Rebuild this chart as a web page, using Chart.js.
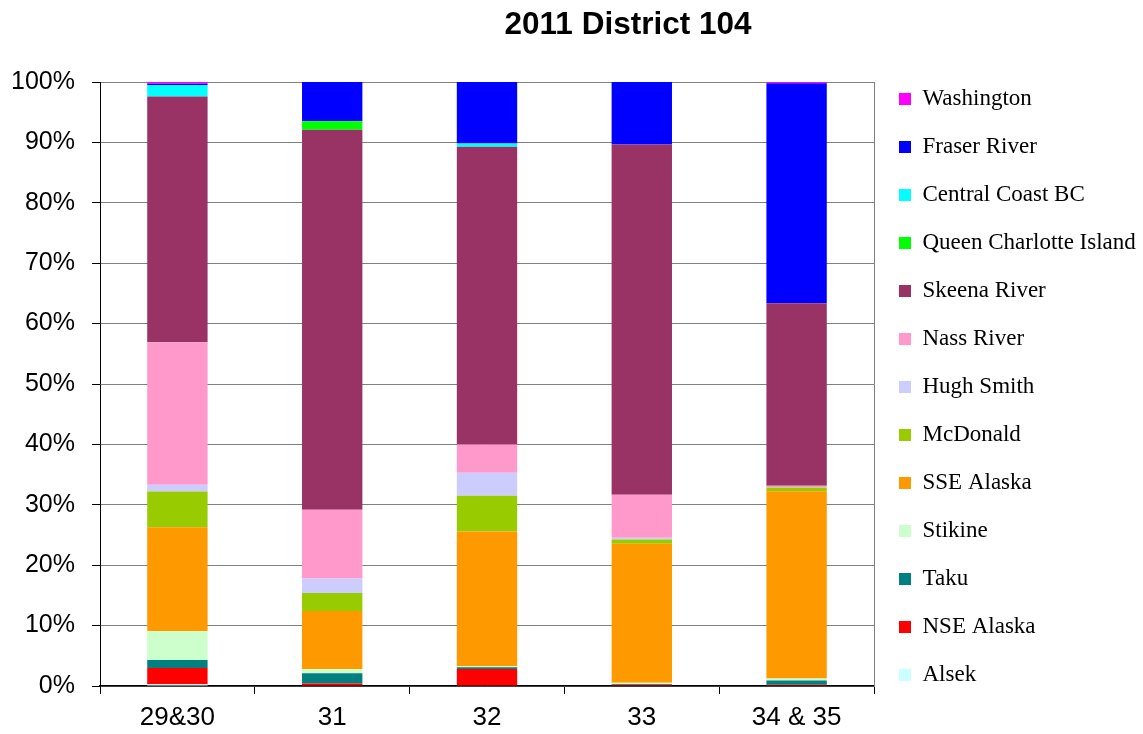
<!DOCTYPE html>
<html>
<head>
<meta charset="utf-8">
<title>2011 District 104</title>
<script src="https://cdn.jsdelivr.net/npm/chart.js@4.4.0/dist/chart.umd.min.js"></script>
<style>
  html, body { margin: 0; padding: 0; background: #fff; }
</style>
</head>
<body>
<canvas id="districtChart" width="1143" height="734"></canvas>

<script>
    // stock composition (% of catch) per statistical week
    const weeks = ['29&30', '31', '32', '33', '34 & 35'];

    const alsek        = [0.3, 0,    0.1,  0,    0];
    const nseAlaska    = [2.7, 0.4,  2.7,  0.2,  0.2];
    const taku         = [1.3, 1.7,  0.3,  0.15, 0.7];
    const stikine      = [4.8, 0.7,  0.2,  0.2,  0.35];
    const sseAlaska    = [17.2, 9.6, 22.3, 23.0, 31.0];
    const mcDonald     = [5.9, 3.0,  5.9,  0.7,  0.6];
    const hughSmith    = [1.1, 2.4,  3.8,  0.3,  0.1];
    const nassRiver    = [23.6, 11.4, 4.7, 7.1,  0.2];
    const skeenaRiver  = [40.7, 62.9, 49.3, 58.0, 30.2];
    const queenCharlotte = [0, 1.4,  0,    0,    0];
    const centralCoast = [1.9, 0,    0.5,  0,    0];
    const fraserRiver  = [0.2, 6.5,  10.2, 10.35, 36.45];
    const washington   = [0.3, 0,    0,    0,    0.2];

    const yTicks = [0, 10, 20, 30, 40, 50, 60, 70, 80, 90, 100];

    // bottom of the stack first
    const series = [
        ['Alsek', alsek, '#CCFFFF'],
        ['NSE Alaska', nseAlaska, '#FF0000'],
        ['Taku', taku, '#008080'],
        ['Stikine', stikine, '#CCFFCC'],
        ['SSE Alaska', sseAlaska, '#FF9900'],
        ['McDonald', mcDonald, '#99CC00'],
        ['Hugh Smith', hughSmith, '#CCCCFF'],
        ['Nass River', nassRiver, '#FF99CC'],
        ['Skeena River', skeenaRiver, '#993366'],
        ['Queen Charlotte Island', queenCharlotte, '#00FF00'],
        ['Central Coast BC', centralCoast, '#00FFFF'],
        ['Fraser River', fraserRiver, '#0000FF'],
        ['Washington', washington, '#FF00FF']
    ];

    const datasets = series.map(s => ({
        label: s[0],
        data: s[1],
        backgroundColor: s[2],
        borderWidth: 0,
        barPercentage: 0.39,
        categoryPercentage: 1
    }));

    // the excel title sits centred over a wider box than the canvas
    const titleShift = {
        id: 'titleShift',
        afterLayout(chart) {
            if (chart.titleBlock) {
                chart.titleBlock.left = 113;
                chart.titleBlock.right = 1143;
            }
        }
    };

    const districtChart = new Chart(document.getElementById('districtChart'), {
        type: 'bar',
        data: {
            labels: weeks,
            datasets: datasets
        },
        plugins: [titleShift],
        options: {
            responsive: false,
            animation: false,
            layout: { padding: 0 },
            plugins: {
                title: {
                    display: true,
                    text: '2011 District 104',
                    color: '#000',
                    font: { family: 'Liberation Sans', size: 31.5, weight: 'bold' },
                    padding: { top: 6, bottom: 38.2 }
                },
                legend: {
                    position: 'right',
                    reverse: true,
                    maxWidth: 269,
                    title: {
                        display: true,
                        text: ' ',
                        padding: 0,
                        font: { size: 33.33 }
                    },
                    labels: {
                        boxWidth: 12,
                        boxHeight: 12,
                        padding: 25,
                        color: '#000',
                        font: { family: 'Liberation Serif', size: 23 }
                    }
                },
                tooltip: { enabled: false }
            },
            scales: {
                x: {
                    stacked: true,
                    afterFit: (scale) => { scale.height = 48; },
                    grid: {
                        offset: true,
                        drawOnChartArea: false,
                        tickLength: 8,
                        tickColor: '#000'
                    },
                    border: { color: '#000', width: 1.5 },
                    ticks: {
                        color: '#000',
                        padding: 8,
                        font: { family: 'Liberation Sans', size: 26 }
                    }
                },
                y: {
                    stacked: true,
                    min: 0,
                    max: 100,
                    afterFit: (scale) => { scale.width = 100; },
                    afterBuildTicks: (scale) => { scale.ticks = yTicks.map(v => ({ value: v })); },
                    grid: {
                        color: '#808080',
                        tickLength: 8,
                        tickColor: '#000'
                    },
                    border: { color: '#000' },
                    ticks: {
                        color: '#000',
                        padding: 17,
                        font: { family: 'Liberation Sans', size: 25 },
                        callback: (v) => v + '%'
                    }
                },
                // right-hand frame of the plot area
                y2: {
                    position: 'right',
                    grid: { drawOnChartArea: false, drawTicks: false },
                    border: { color: '#808080' },
                    ticks: { display: false }
                }
            }
        }
    });
</script>
</body>
</html>
